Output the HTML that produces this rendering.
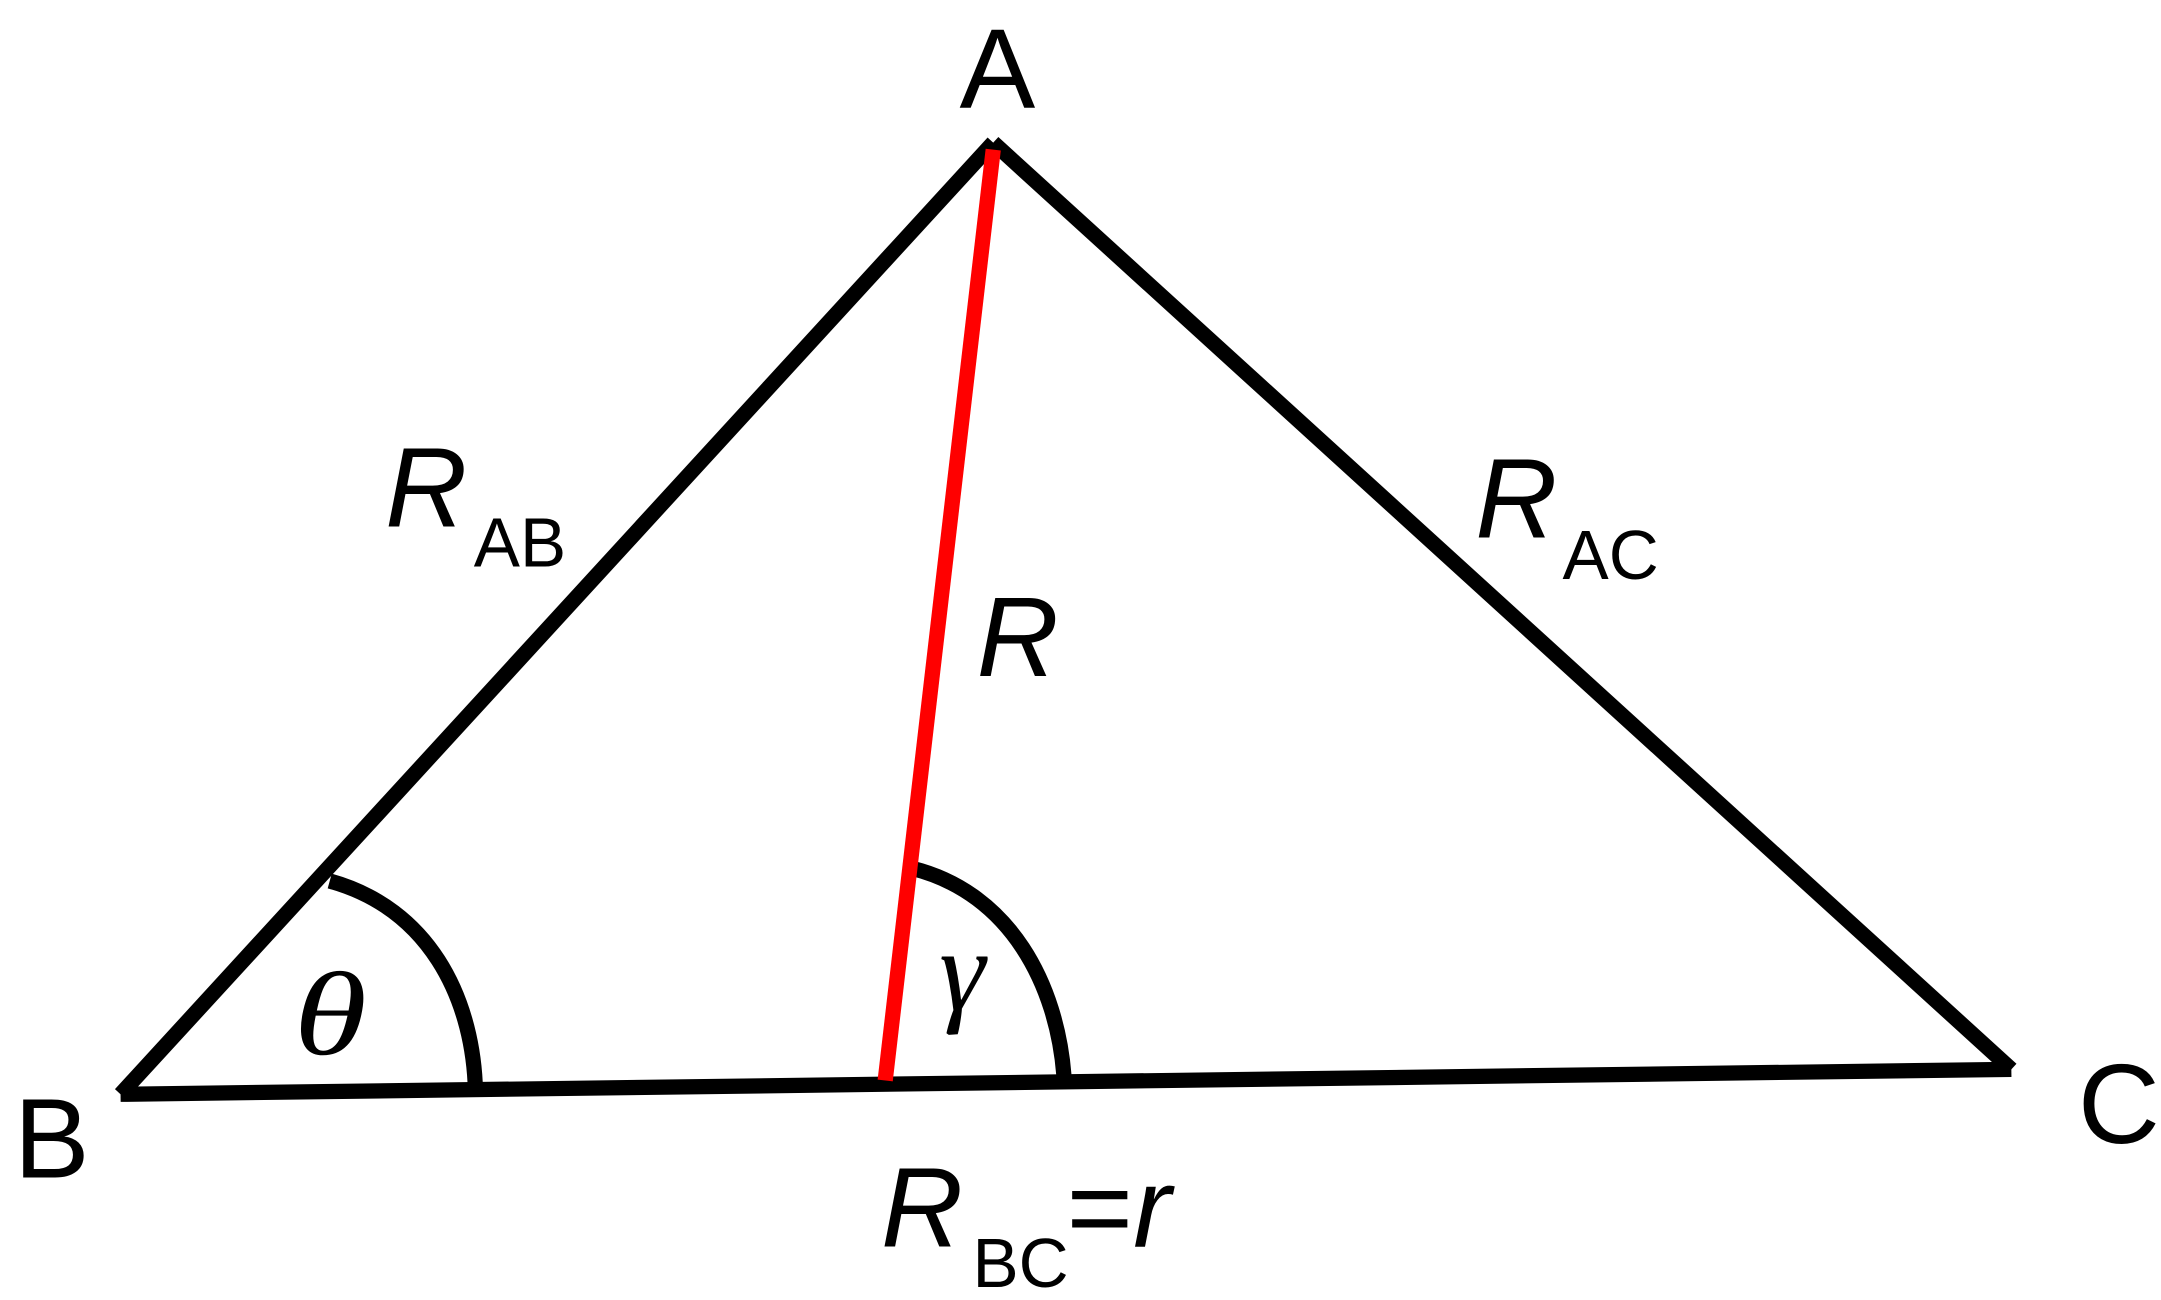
<!DOCTYPE html>
<html><head><meta charset="utf-8"><style>
html,body{margin:0;padding:0;background:#fff;}
svg{display:block;}
</style></head><body>
<svg width="2161" height="1300" viewBox="0 0 1560 938.5" xmlns="http://www.w3.org/2000/svg">
<rect width="1560" height="938.5" fill="#fff"/>
<g fill="none" stroke="#000" stroke-width="11">
<line x1="87" y1="790" x2="717" y2="103"/>
<line x1="717" y1="103" x2="1452" y2="772"/>
<line x1="87" y1="790" x2="1452" y2="772"/>
<path d="M238,636 C310,656 340,720 343,782"/>
<path d="M659,627 C730,645 763,712 768,776"/>
</g>
<line x1="717" y1="108" x2="639" y2="780" stroke="#f00" stroke-width="11"/>
<g font-family="Liberation Sans, sans-serif" fill="#000">
<text x="720" y="78" font-size="82" text-anchor="middle">A</text>
<text x="10" y="850" font-size="82">B</text>
<text x="1500" y="825" font-size="82">C</text>
<text x="278" y="380" font-size="82" font-style="italic">R</text>
<text x="342" y="409" font-size="50">AB</text>
<text x="1065" y="388" font-size="82" font-style="italic">R</text>
<text x="1128" y="418" font-size="50">AC</text>
<text x="705" y="488" font-size="82" font-style="italic">R</text>
<text x="636" y="900" font-size="82" font-style="italic">R</text>
<text x="702" y="929" font-size="50">BC</text>
<text x="770" y="900" font-size="82">=</text>
<text x="818" y="900" font-size="82" font-style="italic">r</text>
</g>
<g font-family="Liberation Serif, serif" font-style="italic" fill="#000">
<text x="212" y="761" font-size="86" transform="translate(212 761) scale(1.25 1) translate(-212 -761)">θ</text>
<text x="678" y="729" font-size="84">γ</text>
</g>
</svg>
</body></html>
